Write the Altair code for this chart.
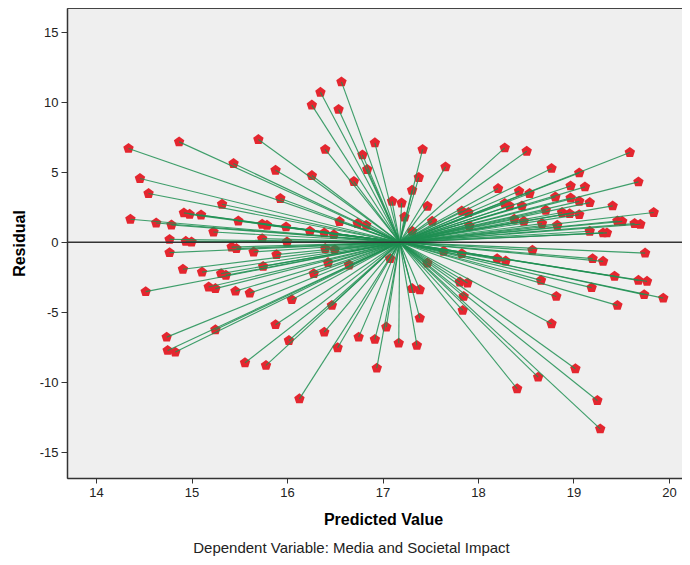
import altair as alt
import pandas as pd

# Predicted value (x) and residual (y) of each case
pred = [16.57, 16.35, 16.26, 16.54, 16.92, 14.34, 14.87, 15.70, 16.40, 16.79,
        15.44, 15.88, 16.26, 16.84, 16.70, 14.46, 14.55, 15.32, 15.93, 14.36,
        14.63, 14.79, 14.92, 14.98, 15.10, 15.23, 15.49, 15.74, 15.79, 15.99,
        16.24, 16.39, 16.49, 16.55, 16.74, 16.83, 14.77, 14.94, 15.00, 15.74,
        16.00, 14.77, 15.42, 15.47, 15.65, 15.89, 16.40, 16.50, 15.75, 14.91,
        15.11, 15.31, 15.36, 16.43, 16.65, 16.28, 14.52, 15.18, 15.25, 15.46,
        15.61, 16.05, 16.47, 15.88, 15.25, 14.74, 14.75, 14.83, 16.39, 16.02,
        16.75, 16.92, 16.53, 15.56, 15.78, 16.94, 16.13, 17.42, 17.66, 17.38,
        17.31, 17.10, 17.20, 17.23, 17.47, 17.52, 17.31, 18.28, 18.51, 18.77,
        19.06, 19.59, 19.68, 18.21, 18.43, 18.54, 18.81, 18.97, 19.12, 18.97,
        19.06, 19.17, 19.41, 19.84, 18.28, 18.33, 18.46, 18.71, 18.88, 18.96,
        19.06, 17.83, 17.90, 18.38, 18.48, 18.67, 18.83, 17.91, 19.46, 19.51,
        19.64, 19.70, 19.17, 19.31, 19.35, 18.57, 19.75, 17.64, 17.83, 18.20,
        18.29, 19.20, 19.31, 17.08, 17.47, 19.43, 19.68, 19.77, 18.66, 19.19,
        19.74, 19.94, 18.82, 19.46, 17.81, 17.89, 17.85, 17.84, 17.31, 17.39,
        17.39, 18.77, 17.04, 17.17, 17.36, 19.02, 18.63, 18.41, 19.25, 19.28]

resid = [11.47, 10.72, 9.81, 9.50, 7.11, 6.71, 7.18, 7.35, 6.64, 6.25,
         5.63, 5.15, 4.77, 5.20, 4.35, 4.56, 3.49, 2.72, 3.13, 1.65,
         1.38, 1.24, 2.10, 2.00, 1.95, 0.74, 1.52, 1.29, 1.22, 1.10,
         0.79, 0.67, 0.55, 1.48, 1.34, 1.22, 0.21, 0.07, 0.02, 0.26,
         0.02, -0.74, -0.34, -0.45, -0.69, -0.88, -0.45, -0.52, -1.72, -1.93,
         -2.13, -2.24, -2.36, -1.45, -1.62, -2.24, -3.53, -3.20, -3.31, -3.49,
         -3.63, -4.10, -4.51, -5.89, -6.25, -6.78, -7.73, -7.85, -6.42, -7.02,
         -6.78, -6.94, -7.54, -8.61, -8.80, -9.00, -11.19, 6.64, 5.39, 4.63,
         3.72, 2.93, 2.81, 1.81, 2.58, 1.50, 0.79, 6.75, 6.51, 5.28,
         4.96, 6.42, 4.32, 3.84, 3.65, 3.49, 3.24, 4.03, 3.96, 3.17,
         2.93, 2.84, 2.60, 2.13, 2.77, 2.60, 2.60, 2.29, 2.13, 2.05,
         1.98, 2.24, 2.13, 1.65, 1.50, 1.34, 1.22, 1.17, 1.52, 1.50,
         1.34, 1.29, 0.79, 0.67, 0.67, -0.57, -0.77, -0.64, -0.81, -1.17,
         -1.34, -1.17, -1.36, -1.17, -1.48, -2.43, -2.72, -2.79, -2.72, -3.24,
         -3.74, -3.99, -3.87, -4.51, -2.84, -2.91, -3.87, -4.87, -3.31, -3.39,
         -5.42, -5.82, -6.06, -7.21, -7.37, -9.04, -9.64, -10.47, -11.31, -13.34]

# centroid the spikes are drawn to
center_pred = 17.18
center_resid = 0.0

x_ticks = [14, 15, 16, 17, 18, 19, 20]
y_ticks = [-15, -10, -5, 0, 5, 10, 15]

n = len(pred)
df = pd.DataFrame({
    "pred": pred,
    "resid": resid,
    "cx": [center_pred] * n,
    "cy": [center_resid] * n,
})
zero_df = pd.DataFrame({"y": [0]})

FONT = "Liberation Sans"
PENT = "M0,-1L0.951,-0.309L0.588,0.809L-0.588,0.809L-0.951,-0.309Z"

xs = alt.Scale(domain=[13.696, 20.22], nice=False, zero=False)
ys = alt.Scale(domain=[-16.85, 16.75], nice=False, zero=False)

x_enc = alt.X("pred:Q", scale=xs,
              axis=alt.Axis(title="Predicted Value", values=x_ticks, grid=False,
                            format="d",
                            labelFontSize=13, titleFontSize=16, titleFontWeight="bold",
                            tickSize=5, labelPadding=3, titlePadding=12,
                            titleX=316,
                            domainColor="#333333", domainWidth=1.5,
                            tickColor="#333333", labelColor="#222222",
                            titleColor="#000000", labelFont=FONT, titleFont=FONT))
y_enc = alt.Y("resid:Q", scale=ys,
              axis=alt.Axis(title="Residual", values=y_ticks, grid=False,
                            labelFontSize=13, titleFontSize=16, titleFontWeight="bold",
                            tickSize=6, labelPadding=3, titlePadding=12,
                            domainColor="#333333", domainWidth=1.5,
                            tickColor="#333333", labelColor="#222222",
                            titleColor="#000000", labelFont=FONT, titleFont=FONT,
                            labelExpr="'' + datum.value"))

points = alt.Chart(df).mark_point(
    shape=PENT, filled=True, fill="#e4262f", size=120, opacity=1, strokeWidth=0
).encode(x=x_enc, y=y_enc)

spikes = alt.Chart(df).mark_rule(
    color="#1f8f52", strokeWidth=1.15, opacity=0.85
).encode(x="pred:Q", y="resid:Q", x2="cx:Q", y2="cy:Q")

zero = alt.Chart(zero_df).mark_rule(color="#333333", strokeWidth=1.5).encode(
    y=alt.Y("y:Q", scale=ys)
)

chart = alt.layer(points, spikes, zero).properties(
    width=623,
    height=470,
    padding={"left": 59, "top": 0, "right": -8, "bottom": 80},
    autosize=alt.AutoSizeParams(type="none"),
    title=alt.TitleParams(
        "Dependent Variable: Media and Societal Impact",
        orient="bottom", fontSize=15, fontWeight="normal", font=FONT,
        color="#222222", offset=14, dx=-27,
    ),
).configure_view(fill="#efefef", stroke="#444444", strokeWidth=1)

chart.save("out.html", embed_options={"renderer": "svg", "actions": False})
